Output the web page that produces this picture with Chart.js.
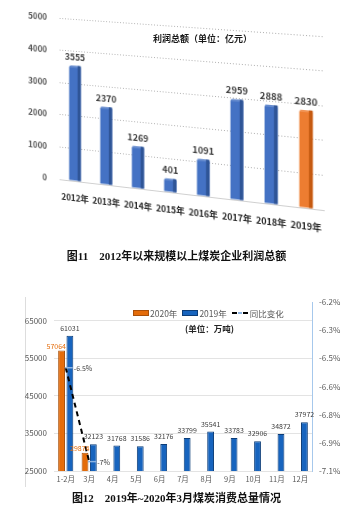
<!DOCTYPE html>
<html><head><meta charset="utf-8">
<script src="https://cdn.jsdelivr.net/npm/chart.js@4.4.1/dist/chart.umd.min.js"></script>
<style>
html,body{margin:0;padding:0;background:#fff;}
body{width:361px;height:521px;position:relative;overflow:hidden;font-family:'Noto Sans CJK SC',sans-serif;}
#wrap1{position:absolute;left:0;top:0;width:361px;height:240px;transform-origin:0 0;}
#t1{position:absolute;left:153px;top:33px;font-size:9px;font-weight:bold;color:#1a1a1a;white-space:nowrap;line-height:12px;}
.cap{position:absolute;left:-4px;width:361px;text-align:center;font-family:'Liberation Serif','Noto Sans CJK SC',serif;font-weight:bold;font-size:11px;line-height:14px;color:#111;white-space:pre;}
#cap1{top:249px;}
#cap2{top:491px;}
#frame{position:absolute;left:25px;top:297px;width:0;height:190px;border-left:1px solid #DDDDDD;}
#wrap2{position:absolute;left:0;top:280px;width:361px;height:215px;}
#legend{position:absolute;left:133px;top:307px;font-size:8.5px;color:#595959;display:flex;align-items:center;white-space:nowrap;line-height:12px;}
#legend .sw{display:inline-block;width:14px;height:4px;margin-right:1px;}
#legend .it{display:flex;align-items:center;margin-right:5px;}
#unit{position:absolute;left:185px;top:322px;font-size:8.5px;font-weight:bold;color:#262626;white-space:nowrap;line-height:12px;}
</style>
</head>
<body>
<div id="wrap1"><canvas id="c1" width="361" height="240"></canvas></div>
<div id="t1">利润总额（单位：亿元）</div>
<div id="cap1" class="cap">图11    2012年以来规模以上煤炭企业利润总额</div>
<div id="frame"></div>
<div id="wrap2"><canvas id="c2" width="361" height="215"></canvas></div>
<div id="legend"></div>
<div id="unit">(单位：万吨)</div>
<div id="cap2" class="cap">图12    2019年~2020年3月煤炭消费总量情况</div>
<script>
// ---- data: chart 1 ----
const years = ['2012年','2013年','2014年','2015年','2016年','2017年','2018年','2019年'];
const profits = [3555, 2370, 1269, 401, 1091, 2959, 2888, 2830];
const profitTicks = [0, 1000, 2000, 3000, 4000, 5000];
// ---- data: chart 2 ----
const months = ['1-2月','3月','4月','5月','6月','7月','8月','9月','10月','11月','12月'];
const coal2020 = [57064, 29874, null, null, null, null, null, null, null, null, null];
const coal2019 = [61031, 32123, 31768, 31586, 32176, 33799, 35541, 33783, 32906, 34872, 37972];
const yoyChange = [-6.5, -7.0, null, null, null, null, null, null, null, null, null];
const yoyLabels = ['-6.5%', '-7%'];
const coalTicks = [25000, 35000, 45000, 55000, 65000];
const yoyTicks = [-7.05, -6.9, -6.75, -6.6, -6.45, -6.3, -6.15];
const yoyTickLabels = ['-7.1%', '-6.9%', '-6.8%', '-6.6%', '-6.5%', '-6.3%', '-6.2%'];
const seriesNames = ['2020年', '2019年', '同比变化'];

const FONT = "'Noto Sans CJK SC', sans-serif";

// ---------- chart 1 ----------
const lastIdx = profits.length - 1;
const fill1 = profits.map((v, i) => i === lastIdx ? '#ED7D31' : '#4472C4');
const side1 = profits.map((v, i) => i === lastIdx ? '#C55A11' : '#2F5597');

const sidePlugin = {
  id: 'side',
  afterDatasetsDraw(chart) {
    const ctx = chart.ctx;
    const meta = chart.getDatasetMeta(0);
    ctx.save();
    meta.data.forEach((bar, i) => {
      const w = bar.width;
      ctx.fillStyle = side1[i];
      ctx.fillRect(bar.x + w / 2 - w * 0.28, bar.y, w * 0.28, bar.base - bar.y);
      ctx.fillStyle = 'rgba(255,255,255,0.18)';
      ctx.fillRect(bar.x - w / 2, bar.y, w * 0.72, 2);
    });
    ctx.font = 'bold 9.5px ' + FONT;
    ctx.fillStyle = '#404040';
    ctx.textAlign = 'center';
    ctx.textBaseline = 'bottom';
    meta.data.forEach((bar, i) => {
      ctx.fillText(String(profits[i]), bar.x, bar.y - 4);
    });
    ctx.restore();
  }
};

const c1 = new Chart(document.getElementById('c1'), {
  type: 'bar',
  data: { labels: years, datasets: [{ label: '利润总额', data: profits, backgroundColor: fill1, borderWidth: 0, borderRadius: 2, barPercentage: 0.9, categoryPercentage: 0.42 }] },
  options: {
    responsive: false, animation: false, devicePixelRatio: 1,
    layout: { padding: { top: 22, right: 31, left: 0, bottom: 0 } },
    plugins: { legend: { display: false }, tooltip: { enabled: false } },
    scales: {
      x: {
        grid: { display: false, drawTicks: false },
        border: { display: true, color: '#D0D0D0' },
        ticks: { font: { family: FONT, size: 9, weight: 'bold' }, color: '#262626', padding: 12, maxRotation: 0, autoSkip: false },
        afterFit: s => { s.height = 50; }
      },
      y: {
        min: 0, max: 5000,
        afterBuildTicks: a => { a.ticks = profitTicks.map(v => ({ value: v })); },
        grid: { color: '#B0B0B0', drawTicks: false },
        border: { display: false, dash: [1, 2] },
        ticks: { font: { family: FONT, size: 9, weight: 'bold' }, color: '#595959', padding: 14, callback: v => String(v) },
        afterFit: s => { s.width = 58; }
      }
    }
  },
  plugins: [sidePlugin]
});

// perspective mapping of the flat chart plane
function solve(A, b) {
  const n = b.length;
  for (let i = 0; i < n; i++) {
    let p = i;
    for (let r = i + 1; r < n; r++) if (Math.abs(A[r][i]) > Math.abs(A[p][i])) p = r;
    [A[i], A[p]] = [A[p], A[i]]; [b[i], b[p]] = [b[p], b[i]];
    for (let r = i + 1; r < n; r++) {
      const f = A[r][i] / A[i][i];
      for (let c = i; c < n; c++) A[r][c] -= f * A[i][c];
      b[r] -= f * b[i];
    }
  }
  const x = new Array(n).fill(0);
  for (let i = n - 1; i >= 0; i--) {
    let s = b[i];
    for (let c = i + 1; c < n; c++) s -= A[i][c] * x[c];
    x[i] = s / A[i][i];
  }
  return x;
}
(function applyPerspective() {
  const xs = c1.scales.x, ys = c1.scales.y;
  const xa = xs.getPixelForValue(0), xb = xs.getPixelForValue(lastIdx);
  const y0 = ys.getPixelForValue(0), y5 = ys.getPixelForValue(5000);
  const src = [[xa, y0], [xa, y5], [xb, y0], [xb, y5]];
  const dst = [[75, 181], [75, 19], [306, 208], [306, 35]];
  const A = [], b = [];
  for (let i = 0; i < 4; i++) {
    const [x, y] = src[i], [u, v] = dst[i];
    A.push([x, y, 1, 0, 0, 0, -u * x, -u * y]); b.push(u);
    A.push([0, 0, 0, x, y, 1, -v * x, -v * y]); b.push(v);
  }
  const [a, bb, c, d, e, f, g, h] = solve(A, b);
  document.getElementById('wrap1').style.transform =
    `matrix3d(${a},${d},0,${g},${bb},${e},0,${h},0,0,1,0,${c},${f},0,1)`;
})();

// ---------- chart 2 ----------
const labelPlugin = {
  id: 'labels2',
  afterDatasetsDraw(chart) {
    const ctx = chart.ctx;
    ctx.save();
    ctx.font = '7px ' + FONT;
    const m1 = chart.getDatasetMeta(1);
    ctx.fillStyle = '#404040'; ctx.textAlign = 'center'; ctx.textBaseline = 'bottom';
    m1.data.forEach((bar, i) => { if (coal2019[i] != null) ctx.fillText(String(coal2019[i]), bar.x, bar.y - 4); });
    const m0 = chart.getDatasetMeta(0);
    ctx.fillStyle = '#E46C0A'; ctx.textAlign = 'right';
    m0.data.forEach((bar, i) => { if (coal2020[i] != null) ctx.fillText(String(coal2020[i]), bar.x + bar.width / 2 + 1, bar.y - 1); });
    const m2 = chart.getDatasetMeta(2);
    ctx.textAlign = 'left'; ctx.textBaseline = 'middle';
    m2.data.forEach((pt, i) => {
      if (yoyChange[i] == null) return;
      ctx.strokeStyle = '#8DB4E2'; ctx.lineWidth = 1.5;
      ctx.beginPath(); ctx.moveTo(pt.x - 1, pt.y); ctx.lineTo(pt.x + 7, pt.y); ctx.stroke();
      ctx.fillStyle = '#404040';
      ctx.fillText(yoyLabels[i], pt.x + 8, pt.y + 1);
    });
    ctx.restore();
  }
};

const c2 = new Chart(document.getElementById('c2'), {
  data: {
    labels: months,
    datasets: [
      { type: 'bar', label: seriesNames[0], data: coal2020, yAxisID: 'y', order: 1, backgroundColor: '#E46C0A', borderColor: '#A9500A', borderWidth: 1, barPercentage: 0.82, categoryPercentage: 0.71 },
      { type: 'bar', label: seriesNames[1], data: coal2019, yAxisID: 'y', order: 1, backgroundColor: '#1764BE', borderColor: '#0C3D78', borderWidth: 1, barPercentage: 0.82, categoryPercentage: 0.71 },
      { type: 'line', label: seriesNames[2], data: yoyChange, yAxisID: 'y1', order: 0, borderColor: '#000000', borderWidth: 2, borderDash: [5, 4], pointRadius: 0, fill: false }
    ]
  },
  options: {
    responsive: false, animation: false, devicePixelRatio: 1,
    layout: { padding: { top: 22, right: 0, left: 0, bottom: 0 } },
    plugins: { legend: { display: false }, tooltip: { enabled: false } },
    scales: {
      x: {
        grid: { display: false, drawTicks: false },
        border: { display: false },
        ticks: { font: { family: FONT, size: 7.5 }, color: '#595959', padding: 4, maxRotation: 0, autoSkip: false },
        afterFit: s => { s.height = 24; }
      },
      y: {
        position: 'left', min: 25000, max: 70000,
        afterBuildTicks: a => { a.ticks = coalTicks.map(v => ({ value: v })); },
        grid: { color: '#E3E3E3', drawTicks: false },
        border: { display: false },
        ticks: { font: { family: FONT, size: 8 }, color: '#595959', padding: 7, callback: v => String(v) },
        afterFit: s => { s.width = 54; }
      },
      y1: {
        position: 'right', min: -7.05, max: -6.15,
        afterBuildTicks: a => { a.ticks = yoyTicks.map(v => ({ value: v })); },
        grid: { display: false, drawTicks: false },
        border: { display: true, color: '#A6C8EC', width: 1 },
        ticks: { font: { family: FONT, size: 8 }, color: '#595959', padding: 7,
          callback: (v) => { const k = yoyTicks.findIndex(t => Math.abs(t - v) < 1e-6); return k >= 0 ? yoyTickLabels[k] : ''; } },
        afterFit: s => { s.width = 49; }
      }
    }
  },
  plugins: [labelPlugin]
});

// legend built from dataset labels
(function buildLegend() {
  const lg = document.getElementById('legend');
  const ds = c2.data.datasets;
  ds.forEach((d, i) => {
    const it = document.createElement('span'); it.className = 'it';
    if (d.type === 'bar') {
      const sw = document.createElement('span'); sw.className = 'sw';
      sw.style.background = d.backgroundColor; sw.style.border = '1px solid ' + d.borderColor;
      it.appendChild(sw);
    } else {
      const ic = document.createElement('span');
      ic.style.cssText = 'display:inline-flex;align-items:center;margin-right:2px;';
      ic.innerHTML = '<span style="display:inline-block;width:5px;height:2px;background:#000"></span>' +
        '<span style="display:inline-block;width:4px;height:2px;margin:0 1px;background:#8DB4E2"></span>' +
        '<span style="display:inline-block;width:5px;height:2px;background:#000"></span>';
      it.appendChild(ic);
    }
    const tx = document.createElement('span'); tx.textContent = d.label;
    it.appendChild(tx);
    lg.appendChild(it);
  });
})();
</script>
</body></html>
